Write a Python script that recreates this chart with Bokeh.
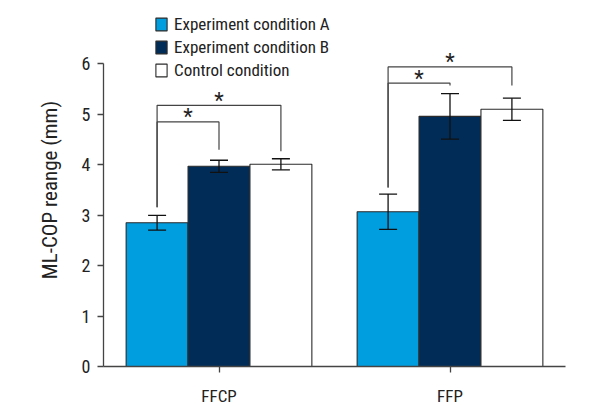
from bokeh.plotting import figure
from bokeh.models import Range1d, ColumnDataSource, Whisker, TeeHead, Title, FixedTicker
from bokeh.core.properties import value
from bokeh.embed import file_html
from bokeh.resources import INLINE

# ---- data ----
categories = ["FFCP", "FFP"]
series_names = ["Experiment condition A", "Experiment condition B", "Control condition"]
means_a = [2.85, 3.07]
means_b = [3.97, 4.96]
means_c = [4.01, 5.10]
err_a = [0.145, 0.35]
err_b = [0.12, 0.45]
err_c = [0.11, 0.22]
y_ticks = [0, 1, 2, 3, 4, 5, 6]
y_label = "ML-COP reange (mm)"

# significance brackets: (category index, from series, to series, left leg bottom, bar height, right leg bottom)
brackets = [
    (0, 0, 1, 3.16, 4.85, 4.30),
    (0, 0, 2, 3.16, 5.18, 4.27),
    (1, 0, 1, 3.55, 5.62, 5.57),
    (1, 0, 2, 3.55, 5.94, 5.57),
]

FONT = "Roboto Condensed"
colors = ["#009ddf", "#012c58", "#ffffff"]
bar_w = 0.268
offsets = [-bar_w, 0.0, bar_w]

p = figure(width=592, height=412, output_backend="svg", toolbar_location=None,
           x_range=Range1d(0, 2), y_range=Range1d(0, 7),
           min_border_left=103, min_border_right=27, min_border_top=13, min_border_bottom=46)
p.outline_line_color = None
p.xgrid.grid_line_color = None
p.ygrid.grid_line_color = None
p.background_fill_color = "white"

all_means = [means_a, means_b, means_c]
all_errs = [err_a, err_b, err_c]
for s in range(3):
    xs = [i + 0.5 + offsets[s] for i in range(len(categories))]
    src = ColumnDataSource(dict(x=xs, top=all_means[s],
                                up=[m + e for m, e in zip(all_means[s], all_errs[s])],
                                lo=[m - e for m, e in zip(all_means[s], all_errs[s])]))
    p.vbar(x="x", top="top", width=bar_w, bottom=0, source=src,
           fill_color=colors[s], line_color="#2b2b2b", line_width=1.1,
           legend_label=series_names[s])
    w = Whisker(base="x", upper="up", lower="lo", source=src, level="overlay",
                line_color="#111111", line_width=1.3,
                upper_head=TeeHead(size=18, line_color="#111111", line_width=1.3),
                lower_head=TeeHead(size=18, line_color="#111111", line_width=1.3))
    p.add_layout(w)

# brackets
bx, by = [], []
sx, sy = [], []
for ci, s0, s1, lb, h, rb in brackets:
    x0 = ci + 0.5 + offsets[s0]
    x1 = ci + 0.5 + offsets[s1]
    bx.append([x0, x0, x1, x1])
    by.append([lb, h, h, rb])
    sx.append((x0 + x1) / 2)
    sy.append(h + 0.1)
p.multi_line(xs=bx, ys=by, line_color="#444444", line_width=1.2)
p.text(x=sx, y=sy, text=["*"] * len(sx), text_align="center", text_baseline="middle",
       text_font=value(FONT), text_font_size="22px", text_color="#222222")

# axes
p.yaxis.bounds = (0, 6)
p.yaxis.ticker = FixedTicker(ticks=y_ticks)
p.xaxis.ticker = FixedTicker(ticks=[i + 0.5 for i in range(len(categories))])
p.xaxis.major_label_overrides = {i + 0.5: c for i, c in enumerate(categories)}
for ax in (p.xaxis, p.yaxis):
    ax.axis_line_color = "#444444"
    ax.axis_line_width = 1.3
    ax.major_tick_line_color = "#444444"
    ax.major_tick_line_width = 1.3
    ax.major_tick_in = 0
    ax.major_tick_out = 6
    ax.minor_tick_line_color = None
    ax.major_label_text_font = FONT
    ax.major_label_text_font_size = "18px"
    ax.major_label_text_color = "#222222"
p.xaxis.major_label_text_font_size = "17px"
p.yaxis.major_label_standoff = 7
p.xaxis.major_label_standoff = 13

p.add_layout(Title(text=y_label, align="center", offset=4, standoff=33,
                   text_font=FONT, text_font_size="21px", text_font_style="normal",
                   text_color="#222222"), "left")

lg = p.legend[0]
lg.location = (51, 285)
lg.padding = 0
lg.margin = 0
lg.spacing = 0
lg.border_line_color = None
lg.background_fill_alpha = 0
lg.glyph_width = 14
lg.glyph_height = 16
lg.label_height = 23
lg.label_standoff = 6
lg.label_text_font = FONT
lg.label_text_font_size = "17px"
lg.label_text_color = "#222222"

open("out.html", "w").write(file_html(p, INLINE))
